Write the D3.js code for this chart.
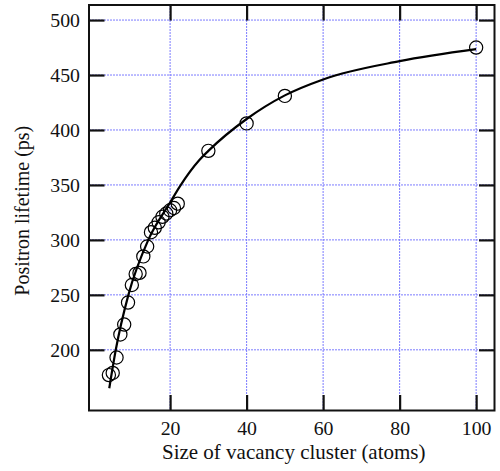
<!DOCTYPE html>
<html>
<head>
<meta charset="utf-8">
<script src="https://cdn.jsdelivr.net/npm/d3@7/dist/d3.min.js"></script>
<style>
  html, body { margin: 0; padding: 0; background: #fff; }
  svg { display: block; }
  text { font-family: "Liberation Serif", "Times New Roman", serif; fill: #111; }
</style>
</head>
<body>
<svg id="chart" width="500" height="471"></svg>
<script>
// Measured positron lifetimes versus vacancy-cluster size
const clusterSize = [4, 5, 6, 7, 8, 9, 10, 11, 12, 13, 14, 15, 16, 17, 18, 19, 20, 21, 22, 30, 40, 50, 100];
const lifetime    = [177, 179, 193, 214, 223, 243, 259, 269, 270, 285, 294, 307, 311, 316, 321, 324, 327, 329, 333, 381, 406, 431, 475];

// Fitted trend curve
const fitSize     = [4.1, 5.8, 9.1, 14.3, 20, 22.6, 27.6, 30, 40, 50, 60, 80, 100];
const fitLifetime = [165, 200, 250, 300, 334, 349, 372.5, 381, 410, 431.5, 446, 462.6, 473.5];

// Axis ticks
const xTicks = [20, 40, 60, 80, 100];
const yTicks = [200, 250, 300, 350, 400, 450, 500];

const FONT = '"Liberation Serif", "Times New Roman", serif';
const svg = d3.select("#chart");
const mLeft = 89, mRight = 494.5, mTop = 5, mBottom = 410.5;

const x = d3.scaleLinear().domain([-1.2, 104.8]).range([mLeft, mRight]);
const y = d3.scaleLinear().domain([144.8, 513.7]).range([mBottom, mTop]);

// Dotted grid
const grid = svg.append("g").attr("stroke", "#7b7bff").attr("stroke-width", 1)
  .attr("stroke-dasharray", "2,1");
grid.selectAll("line.gx").data(xTicks).join("line").attr("class", "gx")
  .attr("x1", d => x(d)).attr("x2", d => x(d)).attr("y1", mTop).attr("y2", mBottom);
grid.selectAll("line.gy").data(yTicks).join("line").attr("class", "gy")
  .attr("x1", mLeft).attr("x2", mRight).attr("y1", d => y(d)).attr("y2", d => y(d));

// Inward ticks on all four sides
const tickLen = 15.5;
const axisBottom = d3.axisBottom(x).tickValues(xTicks).tickSizeInner(-tickLen).tickSizeOuter(0).tickPadding(10.5);
const axisTop = d3.axisTop(x).tickValues(xTicks).tickSizeInner(-tickLen).tickSizeOuter(0).tickFormat("");
const axisLeft = d3.axisLeft(y).tickValues(yTicks).tickSizeInner(-tickLen).tickSizeOuter(0).tickPadding(9);
const axisRight = d3.axisRight(y).tickValues(yTicks).tickSizeInner(-tickLen).tickSizeOuter(0).tickFormat("");

function styleAxis(g) {
  g.attr("font-family", FONT).attr("font-size", 20);
  g.select(".domain").remove();
  g.selectAll(".tick line").attr("stroke", "#111").attr("stroke-width", 2.2);
  g.selectAll(".tick text").attr("font-size", 19.8).attr("fill", "#111")
    .style("font-family", FONT);
}
svg.append("g").attr("transform", `translate(0,${mBottom})`).call(axisBottom).call(styleAxis);
svg.append("g").attr("transform", `translate(0,${mTop})`).call(axisTop).call(styleAxis);
svg.append("g").attr("transform", `translate(${mLeft},0)`).call(axisLeft).call(styleAxis)
  .selectAll(".tick text").attr("dy", "0.34em");
svg.append("g").attr("transform", `translate(${mRight},0)`).call(axisRight).call(styleAxis);

// Frame
svg.append("rect").attr("x", mLeft).attr("y", mTop)
  .attr("width", mRight - mLeft).attr("height", mBottom - mTop)
  .attr("fill", "none").attr("stroke", "#111").attr("stroke-width", 2);

// Fit curve
const fitData = fitSize.map((s, i) => [s, fitLifetime[i]]);
svg.append("path").datum(fitData)
  .attr("fill", "none").attr("stroke", "#000").attr("stroke-width", 2.2)
  .attr("d", d3.line().x(d => x(d[0])).y(d => y(d[1])).curve(d3.curveMonotoneX));

// Open circle markers
const pts = clusterSize.map((s, i) => [s, lifetime[i]]);
svg.append("g").selectAll("circle").data(pts).join("circle")
  .attr("cx", d => x(d[0])).attr("cy", d => y(d[1])).attr("r", 6.6)
  .attr("fill", "none").attr("stroke", "#000").attr("stroke-width", 1.2);

// Axis titles
svg.append("text").attr("x", (mLeft + mRight) / 2 + 2).attr("y", 458.5)
  .attr("text-anchor", "middle").attr("font-size", 21).style("font-family", FONT)
  .text("Size of vacancy cluster (atoms)");
svg.append("text").attr("transform", `translate(29,${(mTop + mBottom) / 2 + 3}) rotate(-90)`)
  .attr("text-anchor", "middle").attr("font-size", 20).style("font-family", FONT)
  .text("Positron lifetime (ps)");
</script>
</body>
</html>
